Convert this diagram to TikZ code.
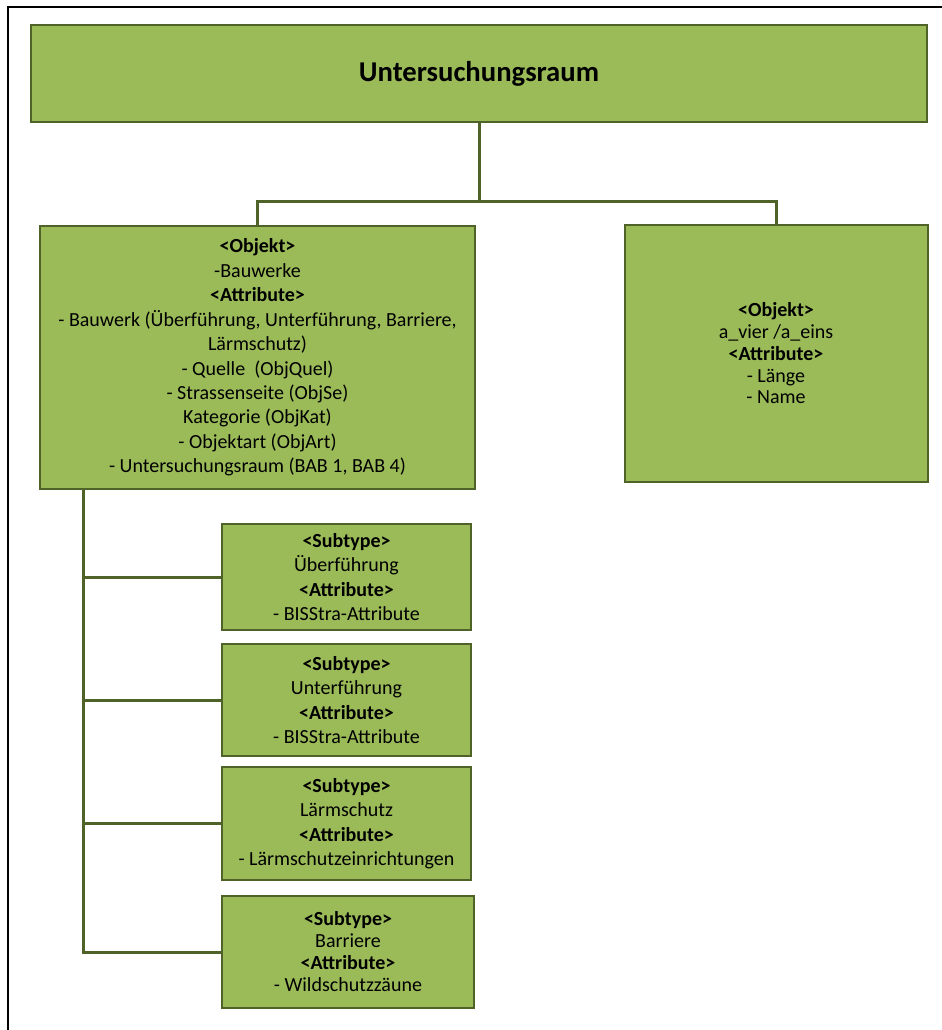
\documentclass[tikz,border=0pt]{standalone}
\usepackage{fontspec}
\setmainfont{Carlito}
\usetikzlibrary{positioning}

\definecolor{boxfill}{RGB}{155,187,89}
\definecolor{boxline}{RGB}{79,98,40}

\tikzset{every picture/.style={line width=0.75pt}}
\tikzset{
  box/.style={draw=boxline, fill=boxfill, line width=1.5pt, inner sep=0pt, align=center, text=black,
    font=\fontsize{15}{18.3}\selectfont},
  conn/.style={draw=boxline, line width=2.25pt},
}

\begin{document}
\begin{tikzpicture}[x=0.75pt,y=0.75pt,yscale=-1,xscale=1]
\useasboundingbox (0,0) rectangle (941,1030);

%Frame
\draw [line width=1.5pt] (8,1032) -- (8,7) -- (943,7) ;

%Connectors
\coordinate (fork) at (479,202);
\coordinate (trunk) at (83,489);

%Shape: Rectangle [top]
\node [box, minimum width=672pt, minimum height=72.75pt, font=\fontsize{21.5}{25}\selectfont\bfseries] (raum) at (479,73.5) {Untersuchungsraum};
%Shape: Rectangle [Objekt Bauwerke]
\node [box, minimum width=326.25pt, minimum height=197.25pt] (bauwerke) at (257.5,357.5) {\textbf{<Objekt>}\\-Bauwerke\\\textbf{<Attribute>}\\- Bauwerk (Überführung, Unterführung, Barriere,\\Lärmschutz)\\- Quelle~ (ObjQuel)\\- Strassenseite (ObjSe)\\Kategorie (ObjKat)\\- Objektart (ObjArt)\\- Untersuchungsraum (BAB 1, BAB 4)};
%Shape: Rectangle [Objekt a_vier]
\node [box, minimum width=227.25pt, minimum height=192.75pt, font=\fontsize{15}{16.3}\selectfont] (avier) at (776,353.5) {\textbf{<Objekt>}\\a\_vier /a\_eins\\\textbf{<Attribute>}\\- Länge\\- Name};

%Subtypes
\node [box, minimum width=186.75pt, minimum height=79.5pt] (ueber) at (346.5,577) {\textbf{<Subtype>}\\Überführung\\\textbf{<Attribute>}\\- BISStra-Attribute};
\node [box, minimum width=186.75pt, minimum height=84pt] (unter) at (346.5,700) {\textbf{<Subtype>}\\Unterführung\\\textbf{<Attribute>}\\- BISStra-Attribute};
\node [box, minimum width=186.75pt, minimum height=84.75pt] (laerm) at (346.5,823.5) {\textbf{<Subtype>}\\Lärmschutz\\\textbf{<Attribute>}\\- Lärmschutzeinrichtungen};
\node [box, minimum width=189pt, minimum height=84pt, font=\fontsize{15}{16.5}\selectfont] (barriere) at (348,952) {\textbf{<Subtype>}\\Barriere\\\textbf{<Attribute>}\\- Wildschutzzäune};

\draw [conn] (raum.south) -- (fork) ;
\draw [conn] (fork) -| (bauwerke.north) ;
\draw [conn] (fork) -| (avier.north) ;
\draw [conn] (trunk) |- (ueber.west) ;
\draw [conn] (trunk) |- (unter.west) ;
\draw [conn] (trunk) |- (laerm.west) ;
\draw [conn] (trunk) |- (barriere.west) ;

\end{tikzpicture}
\end{document}
